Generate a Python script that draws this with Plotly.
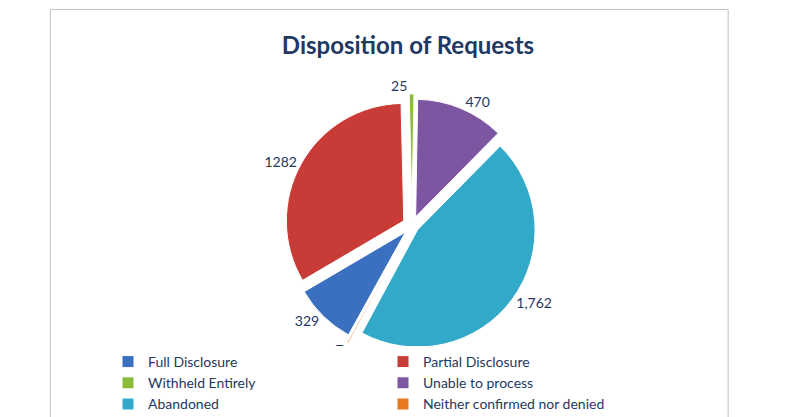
import plotly.graph_objects as go

labels = ["Full Disclosure", "Partial Disclosure", "Withheld Entirely",
          "Unable to process", "Abandoned", "Neither confirmed nor denied"]
values = [329, 1282, 25, 470, 1762, 7]
value_text = ["329", "1282", "25", "470", "1,762", "7"]
colors = ["#3b6fc0", "#c93b36", "#8cbc3c", "#7c56a0", "#33a9c9", "#e8781e"]
pulls = [0.08, 0.08, 0.12, 0.08, 0.06, 0.14]

fig = go.Figure(go.Pie(
    labels=labels, values=values, text=value_text,
    textinfo="text", textposition="outside",
    textfont=dict(size=14, color="#1f3864"),
    marker=dict(colors=colors, line=dict(color="white", width=1)),
    pull=pulls, sort=False, direction="clockwise", rotation=-151,
    domain=dict(x=[0.1, 0.9], y=[0.17, 0.92]),
))

fig.update_layout(
    width=800, height=417,
    paper_bgcolor="white",
    font=dict(family="Lato, Liberation Sans, sans-serif"),
    title=dict(text="<b>Disposition of Requests</b>", x=0.5, y=0.93,
               xanchor="center", font=dict(size=24, color="#1f3864")),
    margin=dict(l=80, r=20, t=55, b=5),
    legend=dict(orientation="h", x=0.0, y=0.0, yanchor="bottom",
                entrywidth=230, entrywidthmode="pixels",
                font=dict(size=14, color="#1f3864"),
                itemwidth=30, tracegroupgap=0),
    shapes=[dict(type="rect", xref="paper", yref="paper",
                 x0=-0.095, x1=1.02, y0=-0.01, y1=1.15,
                 line=dict(color="#c0c0c0", width=1))],
)

fig.write_html("out.html")
